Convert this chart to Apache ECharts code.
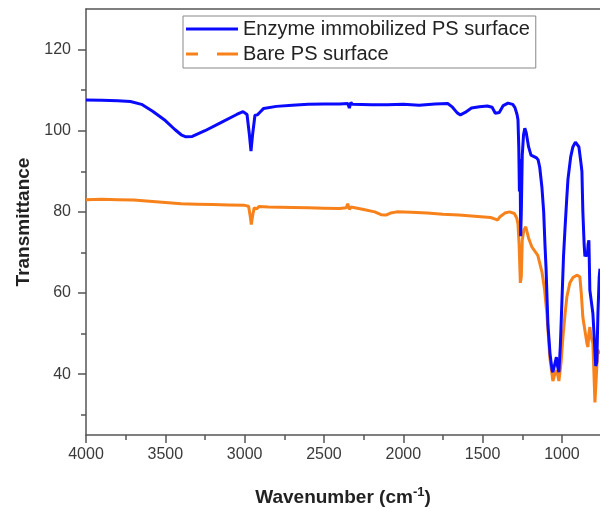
<!DOCTYPE html>
<html>
<head>
<meta charset="utf-8">
<script src="https://cdn.jsdelivr.net/npm/echarts@6/dist/echarts.min.js"></script>
<style>
  html, body { margin: 0; padding: 0; background: #fff; }
  #main { width: 600px; height: 509px; }
</style>
</head>
<body>
<div id="main"></div>
<script>
// FTIR spectra
const enzymeWn = [4000, 3900, 3800, 3720, 3650, 3580, 3500, 3440, 3400, 3370, 3330, 3250, 3150, 3050, 3010,
  2985, 2970, 2960, 2950, 2935, 2920, 2905, 2880, 2800, 2700, 2600, 2500, 2400, 2350, 2340, 2330, 2320,
  2200, 2100, 2000, 1900, 1800, 1720, 1690, 1660, 1640, 1610, 1570, 1520, 1470, 1440, 1420, 1410, 1395,
  1370, 1340, 1310, 1296, 1283, 1277, 1272, 1268, 1264, 1260, 1256, 1250, 1242, 1234, 1225, 1210, 1195,
  1183, 1160, 1150, 1140, 1126, 1115, 1107, 1100, 1088, 1075, 1062, 1057, 1045, 1035, 1028, 1019, 1010,
  1000, 990, 981, 970, 962, 945, 931, 915, 905, 893, 880, 874, 868, 860, 855, 848, 840, 835, 830, 826,
  824, 815, 805, 795, 787, 780, 773, 765, 760];
const enzymeT = [107.6, 107.5, 107.4, 107.2, 106.5, 104.8, 102.5, 100.3, 99.0, 98.5, 98.6, 100.0, 102.0, 104.0, 104.7,
  104.0, 99.0, 95.0, 99.0, 103.8, 103.9, 104.5, 105.5, 106.0, 106.3, 106.5, 106.6, 106.6, 106.7, 105.6, 107.0, 106.5,
  106.4, 106.4, 106.5, 106.3, 106.6, 106.7, 105.8, 104.4, 103.9, 104.5, 105.6, 105.9, 106.1, 105.8, 104.3, 103.9, 104.5,
  106.2, 106.8, 106.5, 105.7, 104.0, 102.7, 96.0, 85.0, 93.0, 74.0, 80.0, 94.0, 99.0, 100.6, 99.5, 96.0, 94.0,
  93.6, 93.3, 92.8, 91.0, 86.0, 80.0, 72.0, 66.0, 52.0, 45.0, 41.0, 40.5, 42.5, 44.2, 42.0, 40.5, 47.0,
  58.0, 69.0, 75.6, 83.0, 88.0, 93.5, 96.0, 97.2, 97.3, 96.0, 92.0, 90.0, 80.0, 72.0, 69.0, 70.0, 69.0, 72.0, 73.0, 65.0,
  60.7, 58.0, 55.0, 48.0, 42.0, 43.0, 55.0, 64.0, 66.0];

const bareWn = [4000, 3900, 3800, 3700, 3600, 3500, 3400, 3300, 3200, 3100, 3000, 2975, 2965, 2958, 2950, 2940,
  2925, 2910, 2850, 2700, 2600, 2500, 2400, 2360, 2350, 2340, 2330, 2250, 2180, 2140, 2110, 2080, 2040,
  1950, 1850, 1750, 1650, 1550, 1450, 1420, 1405, 1390, 1360, 1330, 1300, 1285, 1277, 1270, 1262, 1256,
  1250, 1240, 1228, 1210, 1190, 1152, 1125, 1110, 1095, 1076, 1057, 1045, 1032, 1025, 1019, 1005, 994,
  980, 969, 950, 930, 906, 887, 878, 868, 856, 849, 842, 836, 830, 824, 815, 805, 798, 792, 785, 775, 760];
const bareT = [83.0, 83.1, 83.0, 82.9, 82.6, 82.3, 82.0, 81.9, 81.8, 81.7, 81.6, 81.4, 79.0, 76.9, 79.0, 81.0,
  80.7, 81.3, 81.2, 81.1, 81.0, 80.9, 80.8, 81.0, 82.0, 80.6, 81.2, 80.6, 80.0, 79.3, 79.2, 79.7, 80.0,
  79.9, 79.7, 79.4, 79.2, 78.9, 78.6, 78.2, 78.0, 78.8, 79.7, 80.0, 79.6, 78.5, 77.0, 72.0, 62.5, 64.0,
  73.0, 75.5, 76.3, 73.5, 71.4, 69.3, 65.0, 61.0, 55.0, 44.0, 38.3, 40.0, 41.0, 39.5, 38.3, 43.0, 49.0,
  55.0, 59.0, 62.5, 63.8, 64.4, 64.0, 60.0, 54.0, 51.0, 51.0, 47.5, 46.7, 50.0, 51.6, 49.0, 47.6, 40.0, 33.0, 38.0, 46.0, 45.0];

const xMajor = [4000, 3500, 3000, 2500, 2000, 1500, 1000];
const xMinor = [3750, 3250, 2750, 2250, 1750, 1250];
const yMajor = [40, 60, 80, 100, 120];
const yMinor = [30, 50, 70, 90, 110];

const seriesNames = ["Enzyme immobilized PS surface", "Bare PS surface"];
const seriesColors = ["#0a0aff", "#f7821b"];

const pairs = (xs, ys) => xs.map((x, i) => [x, ys[i]]);

const axisColor = "#555";
const labelFont = { fontFamily: "Liberation Sans", fontSize: 16, color: "#3a3a3a" };
const plain = (v) => String(v);

const option = {
  backgroundColor: "#fff",
  animation: false,
  grid: { left: 86, right: 0, top: 9, bottom: 74, containLabel: false, outerBoundsMode: "none" },
  legend: {
    left: 183,
    top: 16,
    orient: "vertical",
    itemWidth: 52,
    itemHeight: 3,
    itemGap: 5,
    padding: [3, 6, 4, 3],
    borderColor: "#888",
    borderWidth: 1,
    textStyle: { fontFamily: "Liberation Sans", fontSize: 20, color: "#222" },
    data: [
      { name: seriesNames[0], icon: "path://M0,0H52V3H0Z" },
      { name: seriesNames[1], icon: "path://M0,0H12V3H0ZM31,0H52V3H31Z" },
    ],
  },
  xAxis: [
    {
      type: "value",
      inverse: true,
      min: 760,
      max: 4000,
      name: "Wavenumber (cm{sup|-1}{p|)}",
      nameLocation: "middle",
      nameGap: 51,
      nameTextStyle: {
        fontFamily: "Liberation Sans",
        fontWeight: "bold",
        fontSize: 19,
        color: "#222",
        rich: {
          sup: { fontFamily: "Liberation Sans", fontWeight: "bold", fontSize: 13, color: "#222", verticalAlign: "bottom", padding: [0, 0, 10, 0] },
          p: { fontFamily: "Liberation Sans", fontWeight: "bold", fontSize: 19, color: "#222" },
        },
      },
      axisLine: { show: true, onZero: false, lineStyle: { color: axisColor, width: 1.5 } },
      axisTick: { show: true, inside: false, length: 8, customValues: xMajor, lineStyle: { color: axisColor, width: 1.5 } },
      axisLabel: { show: true, margin: 12, customValues: xMajor, formatter: plain, ...labelFont },
      splitLine: { show: false },
    },
    {
      type: "value",
      inverse: true,
      min: 760,
      max: 4000,
      position: "bottom",
      axisLine: { show: false },
      axisTick: { show: true, inside: false, length: 5, customValues: xMinor, lineStyle: { color: axisColor, width: 1.5 } },
      axisLabel: { show: false },
      splitLine: { show: false },
    },
    {
      type: "value",
      inverse: true,
      min: 760,
      max: 4000,
      position: "top",
      axisLine: { show: true, onZero: false, lineStyle: { color: axisColor, width: 1.5 } },
      axisTick: { show: false },
      axisLabel: { show: false },
      splitLine: { show: false },
    },
  ],
  yAxis: [
    {
      type: "value",
      min: 25,
      max: 130,
      name: "Transmittance",
      nameLocation: "middle",
      nameGap: 51,
      nameTextStyle: { fontFamily: "Liberation Sans", fontWeight: "bold", fontSize: 19, color: "#222" },
      axisLine: { show: true, onZero: false, lineStyle: { color: axisColor, width: 1.5 } },
      axisTick: { show: true, inside: false, length: 8, customValues: yMajor, lineStyle: { color: axisColor, width: 1.5 } },
      axisLabel: { show: true, margin: 15, customValues: yMajor, formatter: plain, ...labelFont },
      splitLine: { show: false },
    },
    {
      type: "value",
      min: 25,
      max: 130,
      position: "left",
      axisLine: { show: false },
      axisTick: { show: true, inside: false, length: 5, customValues: yMinor, lineStyle: { color: axisColor, width: 1.5 } },
      axisLabel: { show: false },
      splitLine: { show: false },
    },
  ],
  series: [
    {
      name: seriesNames[0],
      type: "line",
      data: pairs(enzymeWn, enzymeT),
      symbol: "none",
      color: seriesColors[0],
      lineStyle: { color: seriesColors[0], width: 3 },
      z: 3,
    },
    {
      name: seriesNames[1],
      type: "line",
      data: pairs(bareWn, bareT),
      symbol: "none",
      color: seriesColors[1],
      lineStyle: { color: seriesColors[1], width: 3 },
      z: 2,
    },
  ],
};

const myChart = echarts.init(document.getElementById("main"));
myChart.setOption(option);
</script>
</body>
</html>
